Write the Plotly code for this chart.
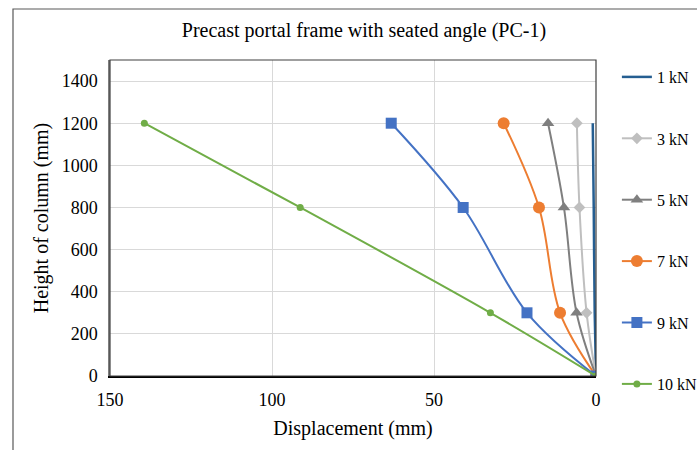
import plotly.graph_objects as go

heights = [0, 300, 800, 1200]
names = ["1 kN", "3 kN", "5 kN", "7 kN", "9 kN", "10 kN"]
disp_1kN = [0, 0.4, 0.7, 1.0]
disp_3kN = [0, 2.9, 5.1, 5.9]
disp_5kN = [0, 6.0, 9.9, 14.8]
disp_7kN = [0, 11.1, 17.6, 28.5]
disp_9kN = [0, 21.3, 41.0, 63.2]
disp_10kN = [0, 32.6, 91.3, 139.4]

series = [disp_1kN, disp_3kN, disp_5kN, disp_7kN, disp_9kN, disp_10kN]
colors = ["#255E91", "#BFBFBF", "#7F7F7F", "#ED7D31", "#4472C4", "#70AD47"]
symbols = [None, "diamond", "triangle-up", "circle", "square", "circle"]
msizes = [0, 9, 11, 12, 11, 7]

FONT = "Liberation Serif"
fig = go.Figure()
for i, (nm, xs) in enumerate(zip(names, series)):
    if symbols[i] is None:
        fig.add_trace(go.Scatter(x=xs, y=heights, name=nm, mode="lines",
                                 line=dict(color=colors[i], width=2.5, shape="spline"),
                                 legendgroup=nm))
    else:
        fig.add_trace(go.Scatter(x=xs, y=heights, name=nm, mode="lines+markers",
                                 line=dict(color=colors[i], width=2, shape="spline"),
                                 marker=dict(symbol=symbols[i], size=msizes[i], color=colors[i]),
                                 legendgroup=nm))

fig.update_layout(
    width=697, height=450,
    margin=dict(l=110, r=101, t=60, b=74, autoexpand=False),
    paper_bgcolor="white", plot_bgcolor="white",
    font=dict(family=FONT, size=17, color="#000000"),
    title=dict(text="Precast portal frame with seated angle (PC-1)",
               x=(364 - 110) / 486, xref="paper", xanchor="center",
               y=1 - 30 / 450, yref="container", yanchor="middle",
               font=dict(family=FONT, size=20, color="#000000")),
    xaxis=dict(range=[150, 0], tickvals=[150, 100, 50, 0],
               ticks="outside", ticklen=7, tickcolor="rgba(0,0,0,0)",
               showgrid=True, gridcolor="#D9D9D9", gridwidth=1,
               showline=True, linecolor="#000000", linewidth=1.5, mirror=False,
               zeroline=False,
               title=dict(text="Displacement (mm)", standoff=12,
                          font=dict(family=FONT, size=20, color="#000000")),
               tickfont=dict(size=18)),
    yaxis=dict(range=[0, 1500], tickvals=[0, 200, 400, 600, 800, 1000, 1200, 1400],
               ticks="outside", ticklen=7, tickcolor="rgba(0,0,0,0)",
               showgrid=True, gridcolor="#D9D9D9", gridwidth=1,
               showline=True, linecolor="#7F7F7F", linewidth=1.5,
               zeroline=False,
               title=dict(text="Height of column (mm)", standoff=8,
                          font=dict(family=FONT, size=20, color="#000000")),
               tickfont=dict(size=18)),
    legend=dict(x=1.043, xanchor="left", y=1.0, yanchor="top",
                tracegroupgap=37.6, font=dict(size=16), maxheight=1000,
                bgcolor="rgba(0,0,0,0)"),
    showlegend=True,
)

# plot-area frame
fig.add_shape(type="rect", xref="paper", yref="paper", x0=0, x1=1, y0=0, y1=1,
              line=dict(color="#404040", width=1.2), layer="above")
# outer chart border
fig.add_shape(type="rect", xref="paper", yref="paper",
              x0=(13 - 110) / 486, x1=(710 - 110) / 486,
              y0=(376 - 460) / 316, y1=1 + (60 - 9) / 316,
              line=dict(color="#595959", width=1.2), layer="below")

fig.write_html("out.html")
